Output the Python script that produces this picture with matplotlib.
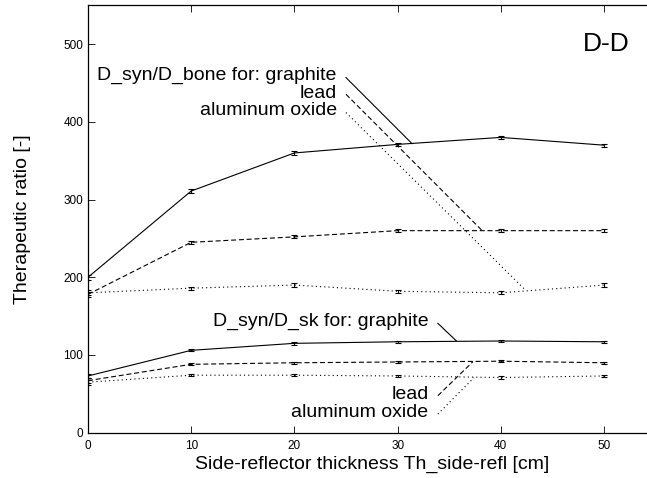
import matplotlib
matplotlib.use("Agg")
import matplotlib.pyplot as plt

plt.rcParams['font.family'] = ['Liberation Sans', 'DejaVu Sans']

# Side-reflector thickness [cm]
thickness = [0, 10, 20, 30, 40, 50]

# Therapeutic ratio D_syn/D_bone
bone_graphite = [200, 311, 360, 371, 380, 370]
bone_lead = [178, 245, 252, 260, 260, 260]
bone_alox = [180, 186, 190, 182, 180, 190]

# Therapeutic ratio D_syn/D_sk
sk_graphite = [73, 106, 115, 117, 118, 117]
sk_lead = [67, 88, 90, 91, 92, 90]
sk_alox = [65, 74, 74, 73, 71, 73]

# Statistical uncertainties
bone_err = [3, 2, 2, 2, 2, 2]
sk_err = [3, 1.5, 1.5, 1.5, 1.5, 1.5]

xticks = [0, 10, 20, 30, 40, 50]
yticks = [0, 100, 200, 300, 400, 500]

W, H = 647, 478
fig = plt.figure(figsize=(W / 100, H / 100), dpi=100)
ax = fig.add_axes([88 / W, (H - 432.7) / H, 567.6 / W, 427.4 / H])

lw = 0.8
styles = {
    'graphite': dict(linestyle='-'),
    'lead': dict(linestyle=(0, (4.5, 2.5))),
    'alox': dict(linestyle=(0, (1.0, 2.8))),
}

series = [
    (bone_graphite, bone_err, 'graphite'),
    (bone_lead, bone_err, 'lead'),
    (bone_alox, bone_err, 'alox'),
    (sk_graphite, sk_err, 'graphite'),
    (sk_lead, sk_err, 'lead'),
    (sk_alox, sk_err, 'alox'),
]
for vals, err, kind in series:
    ax.plot(thickness, vals, color='black', lw=lw, **styles[kind])
    ax.errorbar(thickness, vals, yerr=err, fmt='none', ecolor='black',
                elinewidth=0.8, capsize=2.2, capthick=0.8)

fs_lbl = 14
# Key for the D_syn/D_bone curves
ax.text(24.1, 460, 'D_syn/D_bone for: graphite', ha='right', va='center', fontsize=fs_lbl)
ax.text(24.1, 437, 'lead', ha='right', va='center', fontsize=fs_lbl)
ax.text(24.1, 414, 'aluminum oxide', ha='right', va='center', fontsize=fs_lbl)
ax.plot([25.0, 31.4], [457, 372], color='black', lw=lw, **styles['graphite'])
ax.plot([25.0, 38.2], [435.5, 260], color='black', lw=lw, **styles['lead'])
ax.plot([25.0, 42.3], [412, 184.6], color='black', lw=lw, **styles['alox'])

# Key for the D_syn/D_sk curves
ax.text(33.0, 142.6, 'D_syn/D_sk for: graphite', ha='right', va='center', fontsize=fs_lbl)
ax.text(33.0, 49.3, 'lead', ha='right', va='center', fontsize=fs_lbl)
ax.text(33.0, 25.7, 'aluminum oxide', ha='right', va='center', fontsize=fs_lbl)
ax.plot([33.9, 35.7], [140.8, 118], color='black', lw=lw, **styles['graphite'])
ax.plot([33.9, 37.3], [47.6, 91.4], color='black', lw=lw, **styles['lead'])
ax.plot([33.9, 37.4], [24, 70.8], color='black', lw=lw, **styles['alox'])

ax.text(52.5, 500, 'D-D', ha='right', va='center', fontsize=19)

ax.set_xlim(0, 55)
ax.set_ylim(0, 550)
ax.set_xticks(xticks)
ax.set_yticks(yticks)
ax.tick_params(axis='both', direction='in', length=5, width=0.6, labelsize=8.5,
               top=True, right=False)
ax.tick_params(axis='x', pad=5)
ax.spines['right'].set_visible(False)
for s in ('top', 'bottom', 'left'):
    ax.spines[s].set_linewidth(0.9)

ax.set_xlabel('Side-reflector thickness Th_side-refl [cm]', fontsize=14, labelpad=3)
ax.set_ylabel('Therapeutic ratio [-]', fontsize=14, labelpad=23)

fig.savefig('out.png', dpi=100)
